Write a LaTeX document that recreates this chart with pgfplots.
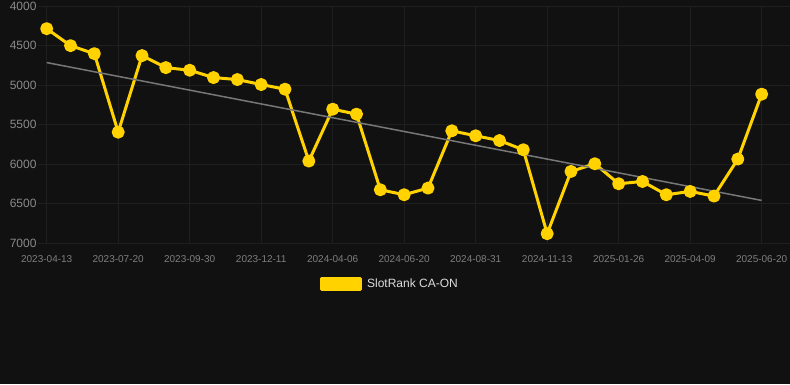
\documentclass[border=0pt]{standalone}
\usepackage{pgfplots}
\pgfplotsset{compat=1.18}
\usepackage{fontspec}
\setmainfont{Liberation Sans}
\definecolor{bg}{HTML}{111111}
\definecolor{gridc}{HTML}{1F1F1F}
\definecolor{ylab}{HTML}{8A8A8A}
\definecolor{xlab}{HTML}{7E7E7E}
\definecolor{gold}{HTML}{FFD200}
\definecolor{trend}{HTML}{777777}
\definecolor{legtext}{HTML}{DDDDDD}
\begin{document}
\begin{tikzpicture}
\fill[bg] (0,0) rectangle (790pt,384pt);
\begin{axis}[
  at={(38pt,141pt)}, anchor=south west,
  scale only axis, width=752pt, height=237pt,
  xmin=-0.365, xmax=31.19,
  ymin=4000, ymax=7000, y dir=reverse,
  axis line style={draw=none},
  major tick length=0pt,
  xtick={0,3,...,30},
  xticklabels={2023-04-13,2023-07-20,2023-09-30,2023-12-11,2024-04-06,2024-06-20,2024-08-31,2024-11-13,2025-01-26,2025-04-09,2025-06-20},
  ytick={4000,4500,...,7000},
  /pgf/number format/assume math mode=true,
  /pgf/number format/1000 sep={},
  xticklabel style={font=\fontsize{10}{12}\selectfont, text=xlab, anchor=center, yshift=-16pt},
  yticklabel style={font=\fontsize{12}{14}\selectfont, text=ylab, anchor=east, xshift=2pt},
  grid=major,
  major grid style={gridc, line width=1pt},
  clip=false,
  legend style={at={(0.468,-0.173)}, anchor=center, draw=none, fill=none,
    text=legtext, font=\fontsize{12}{14}\selectfont, inner sep=0pt},
  legend cell align=left,
]
\addplot[gold, line width=3pt, line join=round, mark=*, mark size=5pt, mark options={fill=gold, draw=none, solid},
  legend image code/.code={\fill[gold] (0pt,-5.5pt) rectangle (39pt,5.5pt);}]
coordinates {
(0,4287) (1,4502) (2,4603) (3,5597) (4,4628) (5,4780) (6,4813) (7,4906)
(8,4931) (9,4994) (10,5053) (11,5963) (12,5306) (13,5369) (14,6326) (15,6389)
(16,6305) (17,5580) (18,5643) (19,5703) (20,5820) (21,6882) (22,6094) (23,5997)
(24,6250) (25,6221) (26,6389) (27,6347) (28,6406) (29,5938) (30,5116)
};
\addlegendentry{\hspace{3pt}SlotRank CA-ON}
\addplot[trend, line width=1.5pt, forget plot] coordinates {(0,4716) (30,6461)};
\end{axis}
\pgfresetboundingbox
\useasboundingbox (0,0) rectangle (790pt,384pt);
\end{tikzpicture}
\end{document}
